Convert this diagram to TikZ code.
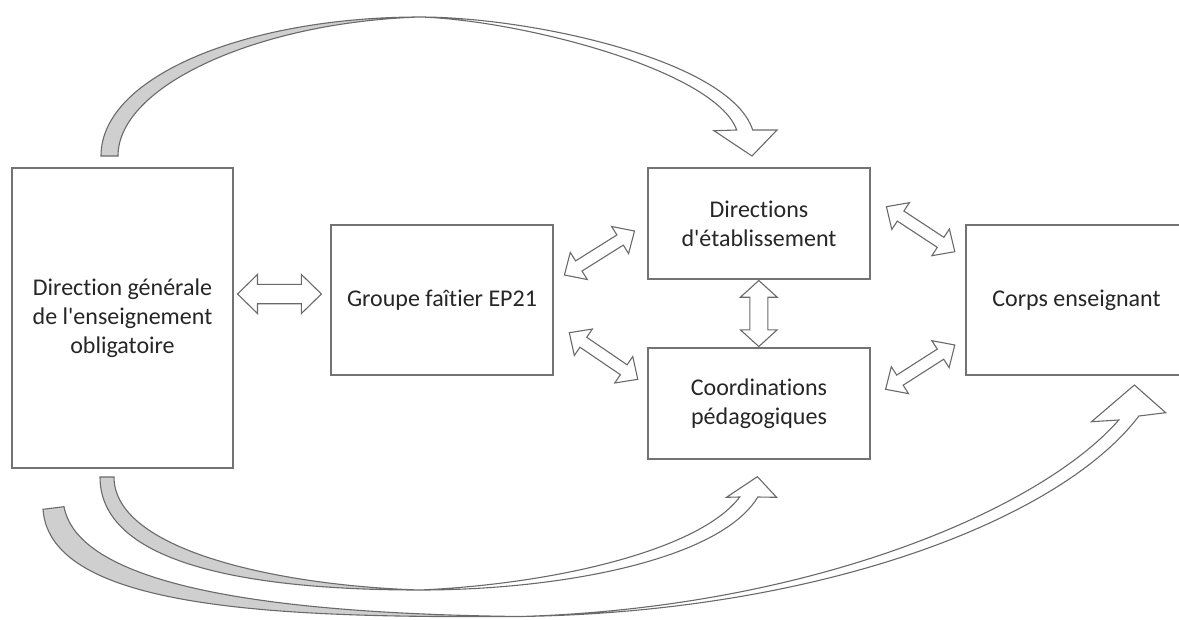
\documentclass[tikz,border=0pt]{standalone}
\usepackage{fontspec}
\usetikzlibrary{calc}
\font\cbr="Carlito:-liga;-clig" at 24pt
\definecolor{boxgray}{HTML}{737373}
\definecolor{arrgray}{HTML}{6A6A6A}
\definecolor{ribfill}{HTML}{CFCFCF}
\definecolor{txt}{HTML}{262626}
\newcommand{\blockdbl}[5]{%
  \coordinate (bm1) at ($(#1)!#5!(#2)$);
  \coordinate (bm2) at ($(#2)!#5!(#1)$);
  \draw[blk] (#1) -- ($(bm1)!#4!90:(#2)$) -- ($(bm1)!#3!90:(#2)$)
    -- ($(bm2)!#3!-90:(#1)$) -- ($(bm2)!#4!-90:(#1)$) -- (#2)
    -- ($(bm2)!#4!90:(#1)$) -- ($(bm2)!#3!90:(#1)$)
    -- ($(bm1)!#3!-90:(#2)$) -- ($(bm1)!#4!-90:(#2)$) -- cycle;}
\begin{document}
\begin{tikzpicture}[x=1pt,y=-1pt,
  box/.style={draw=boxgray, line width=1.2pt, fill=white, inner sep=0pt,
    align=center, text=txt, font={\cbr\baselineskip=29pt\relax}},
  blk/.style={draw=arrgray, fill=white, line width=1.1pt, line join=miter},
  ribg/.style={draw=arrgray, fill=ribfill, line width=1.1pt, line join=miter},
  ribw/.style={draw=arrgray, fill=white, line width=1.1pt, line join=miter}]
\useasboundingbox (0,0) rectangle (1179,619);
\clip (0,0) rectangle (1179,619);

% curved arrow: direction generale -> directions d'etablissement
\filldraw[ribg] (101,156) .. controls (101,75) and (250,17) .. (420,17)
  .. controls (260,22) and (118,85) .. (118,156) -- cycle;
\filldraw[ribw] (420,17) .. controls (530,17) and (730,60) .. (752.7,130)
  -- (777,130) -- (752,156) -- (714,130.7) -- (736.7,130)
  .. controls (715,70) and (520,20) .. (420,17) -- cycle;

% curved arrow: direction generale -> coordinations pedagogiques
\filldraw[ribg] (100,477) .. controls (100,570) and (270,590) .. (420,590)
  .. controls (285,586) and (114,552) .. (114,477) -- cycle;
\filldraw[ribw] (420,590) .. controls (560,590) and (720,560) .. (757.8,497)
  -- (776.6,497.3) -- (757.4,476.7) -- (726.5,497.3) -- (739.7,497)
  .. controls (700,550) and (555,584) .. (420,590) -- cycle;

% curved arrow: direction generale -> corps enseignant
\filldraw[ribg] (43,509.3) .. controls (50,610) and (280,618) .. (520,616.5)
  .. controls (300,614) and (80,592) .. (64,506.7) -- cycle;
\filldraw[ribw] (520,616.5) .. controls (820,612) and (1060,520) .. (1138.9,416)
  -- (1165.7,412.7) -- (1134.4,385) -- (1091.5,421.7) -- (1118.8,420)
  .. controls (1040,510) and (810,608) .. (520,616.5) -- cycle;

% boxes
\node[box, minimum width=221pt, minimum height=300pt] (dg) at (122.5,318)
  {Direction générale\\de l'enseignement\\obligatoire};
\node[box, minimum width=222pt, minimum height=150pt] (gf) at (442,300)
  {Groupe faîtier EP21};
\node[box, minimum width=222pt, minimum height=111pt] (de) at (759,223.5)
  {Directions\\d'établissement};
\node[box, minimum width=222pt, minimum height=111pt] (cp) at (759,403.5)
  {Coordinations\\pédagogiques};
\node[box, minimum width=221pt, minimum height=150pt] (ce) at (1076.5,300)
  {Corps enseignant};

% block double arrows
\coordinate (h1) at (237.5,294);
\coordinate (h2) at (321.4,294);
\blockdbl{h1}{h2}{9.7pt}{19.5pt}{20pt}
\coordinate (a1) at (564.4,275);
\coordinate (a2) at (634.5,231);
\blockdbl{a1}{a2}{6pt}{16pt}{17pt}
\coordinate (b1) at (569.3,332.7);
\coordinate (b2) at (637.8,379.3);
\blockdbl{b1}{b2}{6pt}{16pt}{17pt}
\coordinate (v1) at (758.8,280.5);
\coordinate (v2) at (758.8,346.5);
\blockdbl{v1}{v2}{9pt}{18.4pt}{16.7pt}
\coordinate (c1) at (886.4,206.7);
\coordinate (c2) at (954.8,251.7);
\blockdbl{c1}{c2}{6pt}{16pt}{17pt}
\coordinate (e1) at (885.6,389.3);
\coordinate (e2) at (954.8,345);
\blockdbl{e1}{e2}{6pt}{16pt}{17pt}
\end{tikzpicture}
\end{document}
